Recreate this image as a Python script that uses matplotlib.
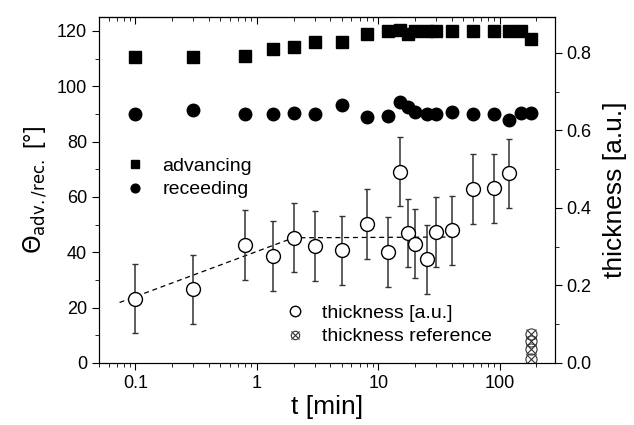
import numpy as np
import matplotlib.pyplot as plt
from matplotlib.ticker import MultipleLocator, LogLocator, NullFormatter, FixedLocator, FixedFormatter
from matplotlib.legend_handler import HandlerTuple

plt.rcParams['font.family'] = ['Liberation Sans', 'DejaVu Sans']

# contact angles [deg]
t_adv = [0.1, 0.3, 0.8, 1.36, 2, 3, 5, 8, 12, 15, 17.5, 20, 25, 30, 40, 60, 90, 120, 150, 180]
adv = [110.4, 110.4, 111, 113.6, 114.2, 116, 116, 118.8, 120, 120.3, 119, 120, 120, 120,
       120, 120, 120, 120, 120, 117]
rec = [90, 91.5, 90, 89.8, 90.2, 90, 93.2, 88.8, 89.4, 94.4, 92.6, 90.8, 90, 90,
       90.6, 90, 90, 87.8, 90.3, 90.3]

# thickness (in units of the right axis, a.u.)
t_th = [0.1, 0.3, 0.8, 1.36, 2, 3, 5, 8, 12, 15, 17.5, 20, 25, 30, 40, 60, 90, 120]
th = [0.166, 0.190, 0.304, 0.276, 0.323, 0.302, 0.291, 0.359, 0.286, 0.494, 0.336,
      0.308, 0.267, 0.338, 0.342, 0.448, 0.451, 0.489]
th_err = [0.089, 0.089, 0.090, 0.090, 0.089, 0.091, 0.089, 0.090, 0.091, 0.090, 0.088,
          0.089, 0.089, 0.090, 0.090, 0.090, 0.089, 0.090]

# guide line
t_fit = [0.074, 2, 40]
th_fit = [0.156, 0.323, 0.325]

# thickness reference
t_ref = [180, 180, 180, 180]
th_ref = [0.076, 0.056, 0.037, 0.011]

fig = plt.figure(figsize=(6.34, 4.25), dpi=100)
ax = fig.add_axes([0.156, 0.146, 0.719, 0.814])
ax2 = ax.twinx()

sq, = ax.plot(t_adv, adv, 's', color='black', ms=8.5, ls='none')
ci, = ax.plot(t_adv, rec, 'o', color='black', ms=9, ls='none')

ax2.plot(t_fit, th_fit, '--', color='black', lw=0.9, dashes=(4, 3))
ax2.errorbar(t_th, th, yerr=th_err, fmt='none', ecolor='#333333', elinewidth=1.1,
             capsize=2.5, capthick=1.0)
oc, = ax2.plot(t_th, th, 'o', mfc='white', mec='black', ms=10, mew=1.0, ls='none')
r1, = ax2.plot(t_ref, th_ref, 'o', mfc='none', mec='#333333', ms=8, mew=0.8, ls='none')
r2, = ax2.plot(t_ref, th_ref, 'x', color='#333333', ms=7, mew=0.8, ls='none')

ax.set_xscale('log')
ax.set_xlim(0.05, 283)
ax.set_ylim(0, 125)
ax2.set_ylim(0, 125 / 140)

ax.yaxis.set_major_locator(MultipleLocator(20))
ax.yaxis.set_minor_locator(MultipleLocator(10))
ax2.yaxis.set_major_locator(MultipleLocator(0.2))
ax2.yaxis.set_minor_locator(MultipleLocator(0.1))
ax2.yaxis.set_major_formatter(plt.FormatStrFormatter('%.1f'))
ax.xaxis.set_major_locator(FixedLocator([0.1, 1, 10, 100]))
ax.xaxis.set_major_formatter(FixedFormatter(['0.1', '1', '10', '100']))
ax.xaxis.set_minor_locator(LogLocator(base=10, subs=np.arange(2, 10), numticks=20))
ax.xaxis.set_minor_formatter(NullFormatter())

ax.tick_params(axis='x', which='both', direction='out', top=False, labelsize=13)
ax.tick_params(axis='x', which='major', length=5)
ax.tick_params(axis='x', which='minor', length=3)
ax.tick_params(axis='y', which='major', direction='out', length=5, labelsize=13)
ax.tick_params(axis='y', which='minor', direction='out', length=3)
ax2.tick_params(axis='y', which='major', direction='out', length=5, labelsize=13)
ax2.tick_params(axis='y', which='minor', direction='out', length=3)

# top ticks pointing inward
top = ax.secondary_xaxis('top')
top.set_xscale('log')
top.xaxis.set_major_locator(FixedLocator([0.1, 1, 10, 100]))
top.xaxis.set_minor_locator(LogLocator(base=10, subs=np.arange(2, 10), numticks=20))
top.xaxis.set_major_formatter(NullFormatter())
top.xaxis.set_minor_formatter(NullFormatter())
top.tick_params(which='both', direction='in')
top.tick_params(which='major', length=5)
top.tick_params(which='minor', length=3)

ax.set_xlabel('t [min]', fontsize=19, labelpad=2)
ax.set_ylabel(r'$\Theta_{\mathrm{adv./rec.}}$ [°]', fontsize=17, labelpad=6)
ax2.set_ylabel('thickness [a.u.]', fontsize=19, labelpad=8)

ax.legend([sq, ci], ['advancing', 'receeding'], loc='upper left',
          bbox_to_anchor=(0.02, 0.645), frameon=False, fontsize=14,
          handletextpad=0.9, labelspacing=0.3, markerscale=0.7, handlelength=1.0)
ax2.legend([oc, (r1, r2)], ['thickness [a.u.]', 'thickness reference'],
           loc='lower left', bbox_to_anchor=(0.37, 0.0), frameon=False, fontsize=14,
           handletextpad=0.9, labelspacing=0.3, markerscale=0.75, handlelength=1.0,
           handler_map={tuple: HandlerTuple(ndivide=1, pad=0)})

plt.savefig('out.png', dpi=100)
